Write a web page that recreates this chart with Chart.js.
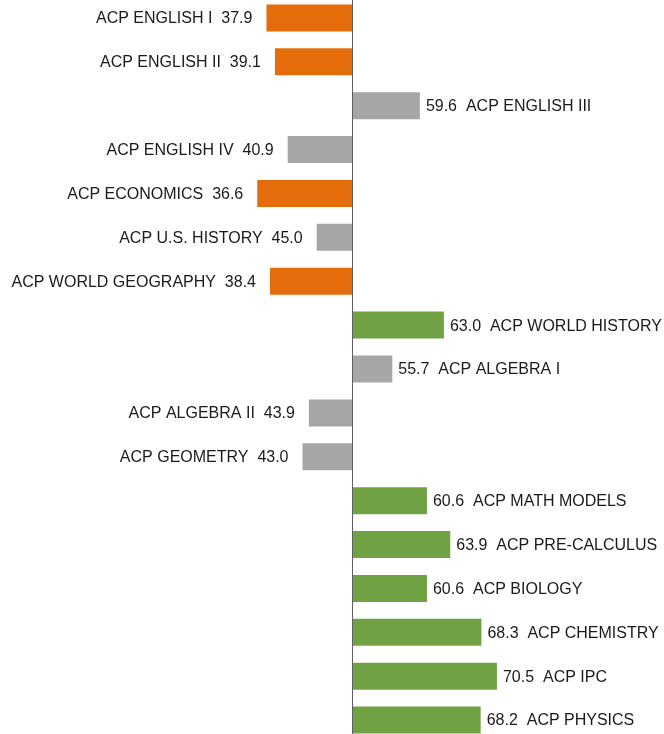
<!DOCTYPE html>
<html>
<head>
<meta charset="utf-8">
<script src="https://cdn.jsdelivr.net/npm/chart.js@4"></script>
<style>
  html, body { margin: 0; padding: 0; background: #ffffff; }
  #frame { position: relative; width: 664px; height: 734px; overflow: hidden; background: #fff; }
  #wrap { position: absolute; left: 0; top: -4px; width: 664px; height: 746px; }
</style>
</head>
<body>
<div id="frame"><div id="wrap"><canvas id="c"></canvas></div></div>
<script>
const categories = [
  "ACP ENGLISH I", "ACP ENGLISH II", "ACP ENGLISH III", "ACP ENGLISH IV",
  "ACP ECONOMICS", "ACP U.S. HISTORY", "ACP WORLD GEOGRAPHY", "ACP WORLD HISTORY",
  "ACP ALGEBRA I", "ACP ALGEBRA II", "ACP GEOMETRY", "ACP MATH MODELS",
  "ACP PRE-CALCULUS", "ACP BIOLOGY", "ACP CHEMISTRY", "ACP IPC", "ACP PHYSICS"
];
const scores = [37.9, 39.1, 59.6, 40.9, 36.6, 45.0, 38.4, 63.0, 55.7, 43.9, 43.0, 60.6, 63.9, 60.6, 68.3, 70.5, 68.2];
const baseline = 50;

function colorFor(v) {
  if (v < 40) return "#E46C0A";
  if (v > 60) return "#70A244";
  return "#A6A6A6";
}

const labelPlugin = {
  id: "sideLabels",
  afterDatasetsDraw(chart) {
    const ctx = chart.ctx;
    const meta = chart.getDatasetMeta(0);
    const xs = chart.scales.x;
    ctx.save();
    const bx = Math.round(xs.getPixelForValue(baseline)) + 0.5;
    ctx.strokeStyle = "#5f5f5f";
    ctx.lineWidth = 1;
    ctx.beginPath();
    ctx.moveTo(bx, 0);
    ctx.lineTo(bx, chart.height);
    ctx.stroke();

    ctx.font = "16px 'Liberation Sans', Arial, sans-serif";
    ctx.fillStyle = "#1a1a1a";
    ctx.textBaseline = "middle";
    meta.data.forEach((el, i) => {
      const v = scores[i];
      const end = xs.getPixelForValue(v);
      const y = el.y + 1;
      if (v < baseline) {
        ctx.textAlign = "right";
        ctx.fillText(categories[i] + "  " + v.toFixed(1), end - 14, y);
      } else {
        ctx.textAlign = "left";
        ctx.fillText(v.toFixed(1) + "  " + categories[i], end + 6, y);
      }
    });
    ctx.restore();
  }
};

new Chart(document.getElementById("c"), {
  type: "bar",
  data: {
    labels: categories,
    datasets: [{
      data: scores.map(v => [baseline, v]),
      backgroundColor: scores.map(colorFor),
      borderWidth: 0,
      barPercentage: 0.615,
      categoryPercentage: 1.0
    }]
  },
  options: {
    indexAxis: "y",
    responsive: true,
    maintainAspectRatio: false,
    animation: false,
    layout: { padding: 0 },
    plugins: { legend: { display: false }, tooltip: { enabled: false } },
    scales: {
      x: { display: false, min: 0.21, max: 94.13 },
      y: { display: false }
    }
  },
  plugins: [labelPlugin]
});
</script>
</body>
</html>
